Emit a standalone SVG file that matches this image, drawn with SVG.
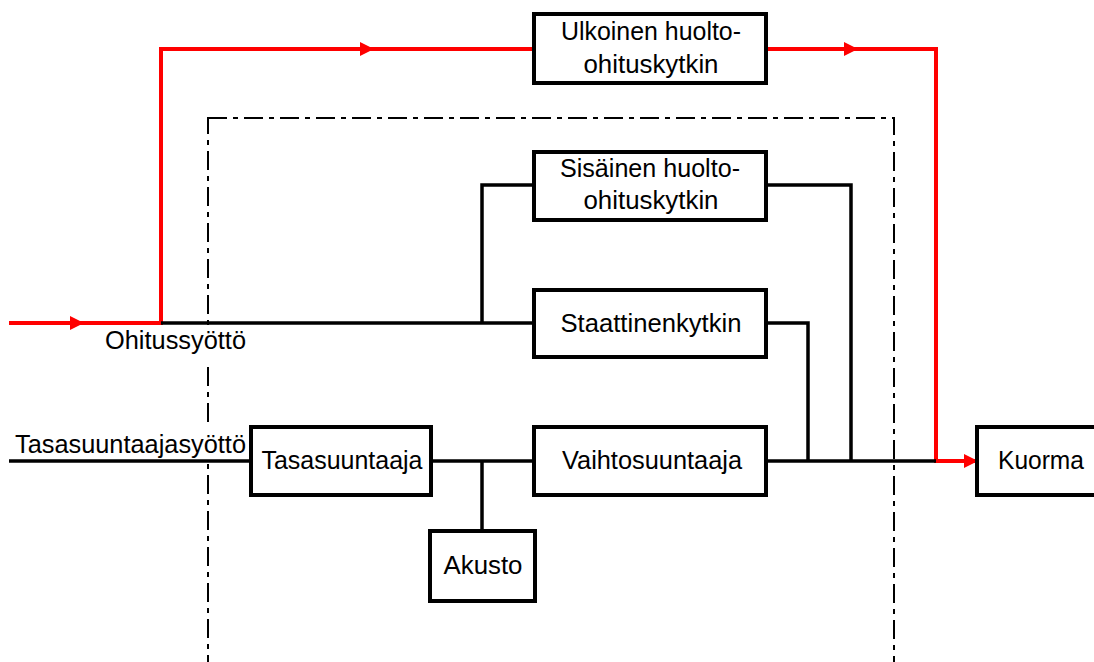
<svg xmlns="http://www.w3.org/2000/svg" width="1094" height="662" viewBox="0 0 1094 662">
<style>
.box{fill:#fff;stroke:#000;stroke-width:4}
.w{fill:none;stroke:#000;stroke-width:3.5}
.r{fill:none;stroke:#f00;stroke-width:4}
.t{font-family:"Liberation Sans",Arial,sans-serif;font-size:25px;fill:#000}
.m{text-anchor:middle}
.dd{fill:none;stroke:#000;stroke-width:2;stroke-dasharray:19 6 5 6}
.bg{fill:#fff;stroke:none}
</style>
<defs>
<marker id="ah" markerWidth="14" markerHeight="16" refX="13" refY="8" markerUnits="userSpaceOnUse" orient="auto">
<path d="M0,1 L14,8 L0,15 Z" fill="#f00"/>
</marker>
</defs>
<rect class="dd" x="208" y="118" width="686" height="600"/>
<rect class="bg" x="98" y="326" width="152" height="38"/>
<rect class="bg" x="12" y="428" width="238" height="31"/>
<g id="connectors">
<path class="r" d="M9,323 H161 V49 H534"/>
<path class="r" d="M766,49 H936 V461 H961"/>
<path class="r" d="M50,323 H83" marker-end="url(#ah)"/>
<path class="r" d="M340,49 H373" marker-end="url(#ah)"/>
<path class="r" d="M824,49 H857" marker-end="url(#ah)"/>
<path class="r" d="M940,461 H977" marker-end="url(#ah)"/>
<path class="w" d="M161,323 H534"/>
<path class="w" d="M482,323 V185 H534"/>
<path class="w" d="M766,185 H851 V461"/>
<path class="w" d="M766,323 H808 V461"/>
<path class="w" d="M766,461 H936"/>
<path class="w" d="M9,461 H251"/>
<path class="w" d="M431,461 H534"/>
<path class="w" d="M482,461 V531"/>
</g>
<g id="ulkoinen"><rect class="box" x="534" y="14" width="232" height="69"/><text class="t m" x="651" y="40" textLength="180" lengthAdjust="spacingAndGlyphs">Ulkoinen huolto-</text><text class="t m" x="651" y="73" textLength="135" lengthAdjust="spacingAndGlyphs">ohituskytkin</text></g>
<g id="sisainen"><rect class="box" x="534" y="152" width="232" height="68"/><text class="t m" x="650" y="177" textLength="180" lengthAdjust="spacingAndGlyphs">Sisäinen huolto-</text><text class="t m" x="651" y="209" textLength="135" lengthAdjust="spacingAndGlyphs">ohituskytkin</text></g>
<g id="staattinen"><rect class="box" x="534" y="290" width="232" height="67"/><text class="t m" x="651" y="332" textLength="181" lengthAdjust="spacingAndGlyphs">Staattinenkytkin</text></g>
<g id="vaihtosuuntaaja"><rect class="box" x="534" y="427" width="232" height="68"/><text class="t m" x="652" y="469" textLength="180" lengthAdjust="spacingAndGlyphs">Vaihtosuuntaaja</text></g>
<g id="tasasuuntaaja"><rect class="box" x="251" y="427" width="180" height="68"/><text class="t m" x="342" y="469" textLength="161" lengthAdjust="spacingAndGlyphs">Tasasuuntaaja</text></g>
<g id="akusto"><rect class="box" x="430" y="531" width="105" height="70"/><text class="t m" x="483" y="574" textLength="79" lengthAdjust="spacingAndGlyphs">Akusto</text></g>
<g id="kuorma"><rect class="box" x="977" y="427" width="130" height="68"/><text class="t m" x="1041" y="469" textLength="86" lengthAdjust="spacingAndGlyphs">Kuorma</text></g>
<g id="labels"><text class="t" x="105" y="349" textLength="141" lengthAdjust="spacingAndGlyphs">Ohitussyöttö</text><text class="t" x="15" y="453" textLength="231" lengthAdjust="spacingAndGlyphs">Tasasuuntaajasyöttö</text></g>
</svg>
